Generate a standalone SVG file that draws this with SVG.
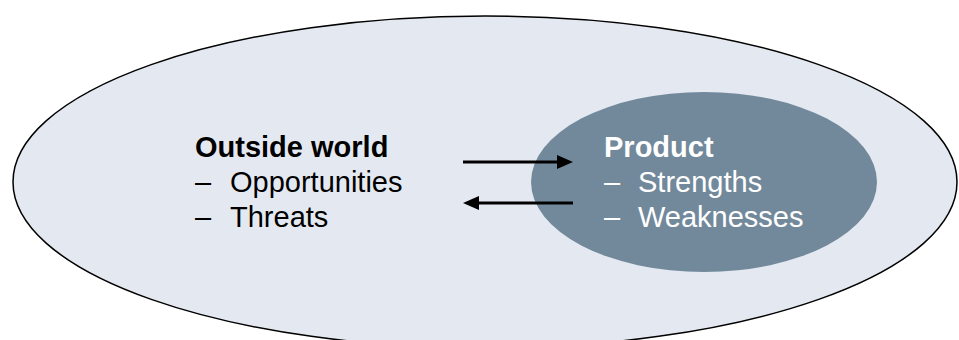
<svg xmlns="http://www.w3.org/2000/svg" width="959" height="340" viewBox="0 0 959 340">
  <defs>
    <style>
      .label { font-family: "Liberation Sans", Arial, sans-serif; font-size: 29px; }
      .title { font-weight: bold; }
      .dark { fill: #000000; }
      .light { fill: #ffffff; }
      .link { stroke: #000000; stroke-width: 3; fill: none; }
    </style>
    <marker id="head" markerUnits="userSpaceOnUse" markerWidth="16" markerHeight="14" refX="0" refY="7" orient="auto">
      <path d="M0,0 L16,7 L0,14 z" fill="#000000"/>
    </marker>
  </defs>

  <rect width="959" height="340" fill="#ffffff"/>

  <!-- environment -->
  <g id="outside-world">
    <ellipse cx="485" cy="182" rx="472" ry="166" fill="#E4E9F1" stroke="#000000" stroke-width="1.5"/>
    <text class="label title dark" x="195" y="157">Outside world</text>
    <text class="label dark" x="195" y="192">–</text>
    <text class="label dark" x="230" y="192">Opportunities</text>
    <text class="label dark" x="195" y="227">–</text>
    <text class="label dark" x="230" y="227">Threats</text>
  </g>

  <!-- product -->
  <g id="product">
    <ellipse cx="704" cy="182" rx="173" ry="90" fill="#72899B"/>
    <text class="label title light" x="604" y="157">Product</text>
    <text class="label light" x="604" y="192">–</text>
    <text class="label light" x="638" y="192">Strengths</text>
    <text class="label light" x="604" y="227">–</text>
    <text class="label light" x="638" y="227">Weaknesses</text>
  </g>

  <!-- connectors -->
  <g id="connectors">
    <line class="link" x1="463" y1="162" x2="557" y2="162" marker-end="url(#head)"/>
    <line class="link" x1="573" y1="203" x2="479" y2="203" marker-end="url(#head)"/>
  </g>
</svg>
